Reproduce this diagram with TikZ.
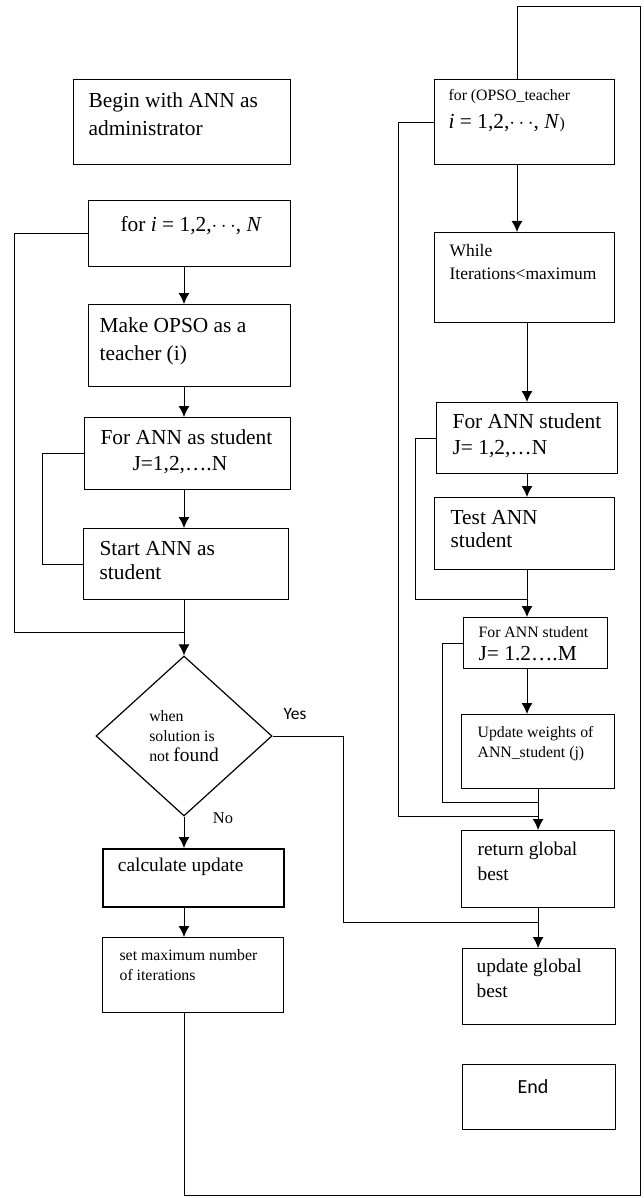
\documentclass[tikz,border=0pt]{standalone}
\usepackage{fontspec}
\setmainfont{Liberation Serif}
\newfontfamily\calib{Carlito}
\usepackage{tikz}
\usetikzlibrary{calc,arrows.meta,positioning,shapes.geometric}
\newcommand{\bigtxt}[0]{\fontsize{21.4pt}{26pt}\selectfont}
\newcommand{\medtxt}[0]{\fontsize{19.4pt}{25pt}\selectfont}
\newcommand{\smtxt}[0]{\fontsize{15.8pt}{20pt}\selectfont}
% width, height, left pad, top pad, text
\newcommand{\boxtext}[5]{\parbox[c][#2][t]{#1}{\vspace*{#4}\raggedright\leftskip=#3\relax\noindent #5}}

\begin{document}
\begin{tikzpicture}[x=1pt, y=-1pt, >={Latex[length=11pt,width=11pt]},
    arr/.style={->, line width=1pt}, ln/.style={line width=1pt},
    blk/.style={draw, line width=1.2pt, anchor=north west, inner sep=0pt},
    dia/.style={draw, diamond, line width=1.2pt, minimum width=176pt, minimum height=160pt, inner sep=0pt, align=left, font=\smtxt},
    lbl/.style={inner sep=0pt}]
    \useasboundingbox (0,0) rectangle (643,1198);

    % left column
    \node[blk] (begin) at (73,79) {\boxtext{217pt}{85pt}{15pt}{13pt}{\bigtxt Begin with ANN as\\[2pt] administrator}};
    \node[blk] (fori) at (88,200) {\boxtext{202pt}{66pt}{32pt}{16pt}{\bigtxt for \textit{i} = 1,2,$\cdots$, \textit{N}}};
    \node[blk] (make) at (88,304) {\boxtext{202pt}{82pt}{11pt}{13pt}{\bigtxt Make OPSO as a\\[2pt] teacher (i)}};
    \node[blk] (forS) at (84,417) {\boxtext{206pt}{72pt}{16pt}{12pt}{\bigtxt For ANN as student\\ \hspace*{32pt}J=1,2,….N}};
    \node[blk] (start) at (83,528) {\boxtext{205pt}{71pt}{16pt}{13pt}{\bigtxt Start ANN as\\[-2pt] student}};
    \node[dia] (dec) at (184,736) {when\\solution is\\not {\medtxt found}};
    \node[blk, line width=1.8pt] (calc) at (102,848) {\boxtext{181pt}{58pt}{15pt}{9pt}{\medtxt calculate update}};
    \node[blk] (setmax) at (102,937) {\boxtext{181pt}{75pt}{17pt}{12pt}{\smtxt set maximum number\\ of iterations}};
    \node[lbl, font=\calib\fontsize{17.4pt}{20pt}\selectfont] (yes) at (295,714) {Yes};
    \node[lbl, font=\fontsize{16.4pt}{20pt}\selectfont] (no) at (223,818) {No};

    % right column
    \node[blk] (oteach) at (434,79) {\boxtext{180pt}{85pt}{14pt}{10pt}{\smtxt for (OPSO\_teacher\\[8pt] {\bigtxt \textit{i} = 1,2,$\cdots$, \textit{N}})}};
    \node[blk] (while) at (434,232) {\boxtext{180pt}{90pt}{15pt}{12pt}{\fontsize{17.5pt}{23pt}\selectfont While\\ Iterations<maximum}};
    \node[blk] (forS2) at (436,402) {\boxtext{181pt}{71pt}{16pt}{11pt}{\bigtxt For ANN student\\ J= 1,2,…N}};
    \node[blk] (test) at (434,497) {\boxtext{180pt}{72pt}{16pt}{13pt}{\bigtxt Test ANN\\[-3pt] student}};
    \node[blk] (forM) at (463,617) {\boxtext{144pt}{51pt}{15pt}{9pt}{\smtxt For ANN student\\[3pt] {\bigtxt J= 1.2….M}}};
    \node[blk] (upd) at (461,714) {\boxtext{153pt}{74pt}{16pt}{12pt}{\smtxt Update weights of\\ ANN\_student (j)}};
    \node[blk] (ret) at (461,830) {\boxtext{153pt}{77pt}{16pt}{11pt}{\medtxt return global\\ best}};
    \node[blk] (ugb) at (462,948) {\boxtext{153pt}{76pt}{14pt}{10pt}{\medtxt update global\\ best}};
    \node[blk] (fin) at (462,1064) {\boxtext{153pt}{65pt}{55pt}{15pt}{\calib\fontsize{20pt}{24pt}\selectfont End}};

    % columns and junctions
    \coordinate (cL) at (184,0);
    \coordinate (cT) at (517,0);
    \coordinate (cR) at (527,0);
    \coordinate (lpL) at (14,0);
    \coordinate (lpI) at (42,0);
    \coordinate (lpO) at (398,0);
    \coordinate (lpS) at (415,0);
    \coordinate (lpM) at (442,0);
    \coordinate (yx) at (343,0);
    \coordinate (jL) at (184,632);
    \coordinate (jT) at (527,599);
    \coordinate (jM) at (537.5,802);
    \coordinate (jO) at (537.5,816);
    \coordinate (jY) at (537.5,922);
    \coordinate (br) at (640,1195);
    \coordinate (tr) at (640,7);

    \draw[arr] (fori.south -| cL) -- (make.north -| cL);
    \draw[arr] (make.south -| cL) -- (forS.north -| cL);
    \draw[arr] (forS.south -| cL) -- (start.north -| cL);
    \draw[arr] (start.south -| cL) -- (dec.north);
    \draw[ln] (fori.west) -- (fori.west -| lpL) |- (jL);
    \draw[ln] (forS.west) -- (forS.west -| lpI) |- (start.west);
    \draw[arr] (dec.south) -- (calc.north -| dec.south);
    \draw[arr] (calc.south -| cL) -- (setmax.north -| cL);
    \draw[ln] (setmax.south -| cL) |- (br) -- (tr) -| (oteach.north -| cT);
    \draw[ln] (dec.east) -- (dec.east -| yx) |- (jY);

    \draw[arr] (oteach.south -| cT) -- (while.north -| cT);
    \draw[arr] (while.south -| cR) -- (forS2.north -| cR);
    \draw[arr] (forS2.south -| cR) -- (test.north -| cR);
    \draw[arr] (test.south -| cR) -- (forM.north -| cR);
    \draw[arr] (forM.south -| cR) -- (upd.north -| cR);
    \draw[arr] (upd.south) -- (ret.north);
    \draw[arr] (ret.south) -- (ugb.north -| ret.south);
    \draw[ln] (oteach.west) -- (oteach.west -| lpO) |- (jO);
    \draw[ln] (forS2.west) -- (forS2.west -| lpS) |- (jT);
    \draw[ln] (forM.west) -- (forM.west -| lpM) |- (jM);
\end{tikzpicture}
\end{document}
